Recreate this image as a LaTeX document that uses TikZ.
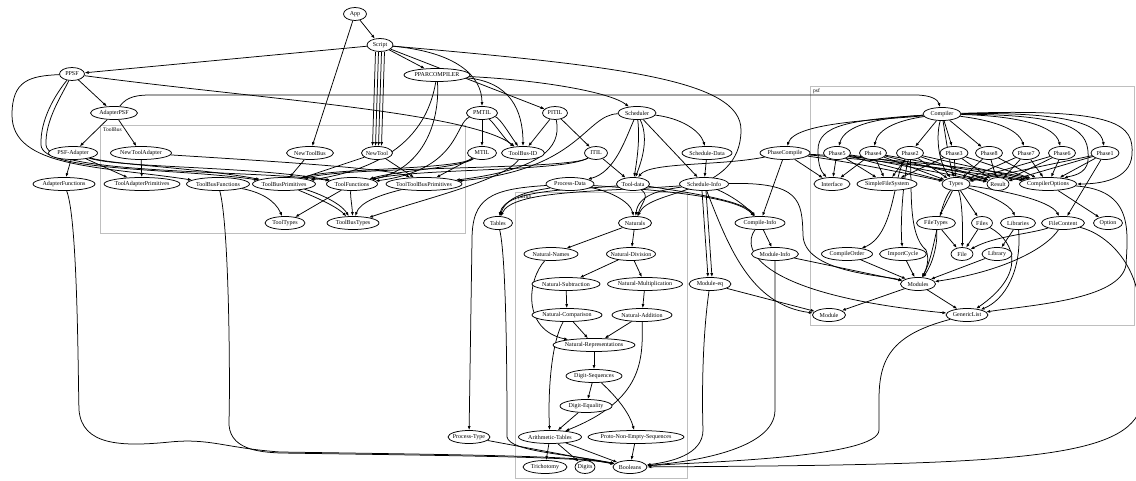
\documentclass[tikz,border=0pt]{standalone}
\usepackage{fontspec}
\setmainfont{Liberation Serif}
\usetikzlibrary{shapes.geometric,arrows.meta}
\pgfdeclarelayer{bg}
\pgfsetlayers{bg,main}
\tikzset{
  nd/.style={ellipse, draw, fill=white, line width=0.75pt, inner xsep=-12pt, inner ysep=0pt, minimum height=13pt, font=\fontsize{6}{7}\selectfont},
  ed/.style={-{Latex[length=4pt,width=3pt]}, line width=0.75pt},
  clu/.style={draw=black!25, line width=0.7pt},
  clab/.style={anchor=west, inner sep=0pt, font=\fontsize{5.5}{6}\selectfont}
}
\begin{document}
\begin{tikzpicture}[x=1pt,y=-1pt]
\useasboundingbox (0,0) rectangle (1136,481);
% nodes
\node[nd,minimum width=23] (App) at (355,14) {App};
\node[nd,minimum width=26] (Script) at (380,45) {Script};
\node[nd,minimum width=25] (PPSF) at (72,74) {PPSF};
\node[nd,minimum width=66] (PPAR) at (437,75) {PPARCOMPILER};
\node[nd,minimum width=47] (AdPSF) at (114,113) {AdapterPSF};
\node[nd,minimum width=31] (PMTIL) at (482,113) {PMTIL};
\node[nd,minimum width=25] (PITIL) at (555,113) {PITIL};
\node[nd,minimum width=38] (Sched) at (637,113) {Scheduler};
\node[nd,minimum width=38] (Comp) at (942,114) {Compiler};
\node[nd,minimum width=49] (PSFAd) at (73,153) {PSF-Adapter};
\node[nd,minimum width=61] (NTAd) at (141,153) {NewToolAdapter};
\node[nd,minimum width=47] (NTB) at (310,153) {NewToolBus};
\node[nd,minimum width=31] (NT) at (377,153) {NewTool};
\node[nd,minimum width=29] (MTIL) at (482,153) {MTIL};
\node[nd,minimum width=43] (TBID) at (523,153) {ToolBus-ID};
\node[nd,minimum width=23] (ITIL) at (596,153) {ITIL};
\node[nd,minimum width=50] (SchData) at (707,153) {Schedule-Data};
\node[nd,minimum width=50] (PhC) at (785,153) {PhaseCompile};
\node[nd,minimum width=27] (Ph5) at (837,153) {Phase5};
\node[nd,minimum width=27] (Ph4) at (873,153) {Phase4};
\node[nd,minimum width=27] (Ph2) at (910,153) {Phase2};
\node[nd,minimum width=28] (Ph3) at (954,153) {Phase3};
\node[nd,minimum width=27] (Ph8) at (989,153) {Phase8};
\node[nd,minimum width=27] (Ph7) at (1026,153) {Phase7};
\node[nd,minimum width=27] (Ph6) at (1062,153) {Phase6};
\node[nd,minimum width=28] (Ph1) at (1105,153) {Phase1};
\node[nd,minimum width=62] (AdFun) at (64,184) {AdapterFunctions};
\node[nd,minimum width=76] (TAP) at (142,184) {ToolAdapterPrimitives};
\node[nd,minimum width=63] (TBF) at (218,184) {ToolBusFunctions};
\node[nd,minimum width=63] (TBP) at (284,184) {ToolBusPrimitives};
\node[nd,minimum width=51] (TF) at (352,184) {ToolFunctions};
\node[nd,minimum width=76] (TTBP) at (424,184) {ToolToolBusPrimitives};
\node[nd,minimum width=48] (PData) at (570,184) {Process-Data};
\node[nd,minimum width=33] (TData) at (633,184) {Tool-data};
\node[nd,minimum width=49] (SchInfo) at (704,184) {Schedule-Info};
\node[nd,minimum width=36] (Intf) at (832,184) {Interface};
\node[nd,minimum width=60] (SFS) at (887,184) {SimpleFileSystem};
\node[nd,minimum width=28] (Types) at (956,184) {Types};
\node[nd,minimum width=22] (Result) at (998,184) {Result};
\node[nd,minimum width=57] (COpt) at (1048,184) {CompilerOptions};
\node[nd,minimum width=40] (TT) at (285,223) {ToolTypes};
\node[nd,minimum width=52] (TBT) at (353,223) {ToolBusTypes};
\node[nd,minimum width=29] (Tables) at (498,223) {Tables};
\node[nd,minimum width=33] (Nat) at (635,223) {Naturals};
\node[nd,minimum width=50] (CInfo) at (760,223) {Compile-Info};
\node[nd,minimum width=39] (FTypes) at (936,223) {FileTypes};
\node[nd,minimum width=21] (Files) at (982,223) {Files};
\node[nd,minimum width=35] (Libs) at (1018,223) {Libraries};
\node[nd,minimum width=43] (FCont) at (1063,223) {FileContent};
\node[nd,minimum width=29] (Option) at (1108,223) {Option};
\node[nd,minimum width=54] (NNames) at (551,254) {Natural-Names};
\node[nd,minimum width=49] (NDiv) at (631,254) {Natural-Division};
\node[nd,minimum width=47] (MInfo) at (775,254) {Module-Info};
\node[nd,minimum width=51] (COrder) at (847,254) {CompileOrder};
\node[nd,minimum width=47] (ICycle) at (903,254) {ImportCycle};
\node[nd,minimum width=22] (File) at (962,254) {File};
\node[nd,minimum width=30] (Library) at (997,254) {Library};
\node[nd,minimum width=68] (NSub) at (566,284) {Natural-Subtraction};
\node[nd,minimum width=75] (NMul) at (645,284) {Natural-Multiplication};
\node[nd,minimum width=42] (Modeq) at (710,284) {Module-eq};
\node[nd,minimum width=35] (Modules) at (918,284) {Modules};
\node[nd,minimum width=70] (NComp) at (567,315) {Natural-Comparison};
\node[nd,minimum width=60] (NAdd) at (642,315) {Natural-Addition};
\node[nd,minimum width=33] (Module) at (829,315) {Module};
\node[nd,minimum width=42] (GList) at (967,315) {GenericList};
\node[nd,minimum width=82] (NRep) at (594,345) {Natural-Representations};
\node[nd,minimum width=56] (DSeq) at (594,376) {Digit-Sequences};
\node[nd,minimum width=52] (DEq) at (586,406) {Digit-Equality};
\node[nd,minimum width=63] (ATab) at (550,437) {Arithmetic-Tables};
\node[nd,minimum width=96] (PNES) at (636,437) {Proto-Non-Empty-Sequences};
\node[nd,minimum width=42] (PType) at (469,437) {Process-Type};
\node[nd,minimum width=44] (Tri) at (545,467) {Trichotomy};
\node[nd,minimum width=20] (Digits) at (585,467) {Digits};
\node[nd,minimum width=34] (Bool) at (630,467) {Booleans};
\begin{pgfonlayer}{bg}
% clusters
\draw[clu] (100,125) rectangle (465,233);
\node[clab] (lToolBus) at (103,130) {ToolBus};
\draw[clu] (515,192) rectangle (687,478);
\node[clab] (lpdflib) at (518,197) {pdflib};
\draw[clu] (810,86) rectangle (1134,325);
\node[clab] (lpsf) at (813,91) {psf};
% ---- edges: top
\draw[ed] (App) -- (Script);
\draw[ed] (App) -- (NTB);
\draw[ed] (Script) -- (PPSF);
\draw[ed] (Script) -- (PPAR);
\foreach \s in {-4.5,-1.5,1.5,4.5}{\draw[ed] ([xshift=\s]Script.south) -- ([xshift=\s]NT.north);}
\draw[ed] (Script) .. controls (455,52) and (482,75) .. (PMTIL);
\draw[ed] (Script) -- (PITIL);
\draw[ed] (Script) .. controls (620,66) and (741,80) .. (741,130) .. controls (741,196) and (650,188) .. (Nat);
% PPSF
\draw[ed] (PPSF) -- (AdPSF);
\draw[ed] (PPSF) .. controls (250,98) and (470,112) .. (TBID);
\draw[ed] (PPSF) .. controls (30,76) and (12,80) .. (12,115) .. controls (12,168) and (100,166) .. (TBF);
\draw[ed] (PPSF) .. controls (55,95) and (40,120) .. (41,145) .. controls (42,172) and (180,168) .. (TBP);
\draw[ed] (PPSF) .. controls (62,95) and (45,120) .. (46,145) .. controls (47,175) and (260,170) .. (TF);
% AdapterPSF
\draw[ed] (AdPSF) -- (PSFAd);
\draw[ed] (AdPSF) -- (NTAd);
\draw[ed] (AdPSF) .. controls (125,100) and (130,95) .. (150,95) -- (915,95) .. controls (932,95) and (938,100) .. (Comp);
% PSF-Adapter, NewToolAdapter, NewToolBus, NewTool
\draw[ed] (PSFAd) -- (AdFun);
\draw[ed] (PSFAd) -- (TAP);
\draw[ed] (PSFAd) .. controls (120,168) and (250,166) .. (TF);
\draw[ed] (PSFAd) .. controls (115,165) and (200,168) .. (TBP);
\draw[ed] (NTAd) -- (TAP);
\draw[ed] (NTAd) .. controls (250,160) and (390,168) .. (TTBP);
\draw[ed] (NTB) -- (TBP);
\draw[ed] (NT) -- (TBP);
\draw[ed] (NT) -- (TTBP);
% PPARCOMPILER
\draw[ed] (PPAR) .. controls (540,80) and (610,92) .. (Sched);
\draw[ed] (PPAR) .. controls (510,82) and (523,110) .. (TBID);
\draw[ed] (PPAR) .. controls (430,115) and (410,165) .. (TBP);
\draw[ed] (PPAR) .. controls (440,120) and (425,168) .. (TF);
% PMTIL, PITIL, MTIL, ITIL
\draw[ed] (PMTIL) -- (MTIL);
\draw[ed] (PMTIL) .. controls (500,118) and (510,135) .. (TBID);
\draw[ed] (PMTIL) .. controls (495,124) and (505,140) .. (TBID);
\draw[ed] (PMTIL) .. controls (455,122) and (460,170) .. (TF);
\draw[ed] (PITIL) -- (TBID);
\draw[ed] (PITIL) -- (ITIL);
\draw[ed] (PITIL) .. controls (560,140) and (555,168) .. (TTBP);
\draw[ed] (MTIL) -- (TTBP);
\draw[ed] (MTIL) .. controls (460,168) and (400,170) .. (TF);
\draw[ed] (MTIL) .. controls (455,170) and (330,168) .. (TBP);
\draw[ed] (ITIL) -- (TData);
\draw[ed] (ITIL) .. controls (565,172) and (420,168) .. (TF);
\draw[ed] (ITIL) .. controls (570,170) and (350,166) .. (TBP);
\draw[ed] (TBID) .. controls (505,180) and (420,200) .. (TBT);
% ToolBus internal
\draw[ed] (TBF) .. controls (260,192) and (275,200) .. (TT);
\draw[ed] (TBP) .. controls (310,195) and (335,205) .. (TBT);
\draw[ed] (TBP) .. controls (315,192) and (340,202) .. (TBT);
\draw[ed] (TF) -- (TT);
\draw[ed] (TF) .. controls (350,195) and (352,205) .. (TBT);
\draw[ed] (TTBP) .. controls (380,195) and (360,202) .. (TBT);
% Scheduler
\draw[ed] (Sched) .. controls (680,118) and (700,130) .. (SchData);
\draw[ed] (Sched) -- (SchInfo);
\draw[ed] (Sched) .. controls (640,140) and (637,160) .. (TData);
\draw[ed] (Sched) .. controls (650,140) and (640,165) .. (TData);
\draw[ed] (Sched) .. controls (625,140) and (615,172) .. (PData);
\draw[ed] (Sched) .. controls (585,115) and (580,170) .. (TTBP);
\draw[ed] (SchData) -- (SchInfo);
% Schedule-Info
\draw[ed] ([xshift=-2]SchInfo.south) -- ([xshift=-2]Modeq.north);
\draw[ed] ([xshift=2]SchInfo.south) -- ([xshift=2]Modeq.north);
\draw[ed] (SchInfo) .. controls (730,195) and (745,205) .. (CInfo);
\draw[ed] (SchInfo) .. controls (660,190) and (638,195) .. (Nat);
\draw[ed] (SchInfo) .. controls (600,192) and (512,190) .. (Tables);
\draw[ed] (SchInfo) .. controls (800,182) and (802,200) .. (803,235) .. controls (804,272) and (880,275) .. (Modules);
\draw[ed] (SchInfo) .. controls (728,245) and (750,305) .. (Module);
% Process-Data, Tool-data
\draw[ed] (PData) .. controls (605,190) and (630,200) .. (Nat);
\draw[ed] (PData) .. controls (540,190) and (507,193) .. (Tables);
\draw[ed] (PData) .. controls (490,189) and (472,198) .. (472,240) -- (PType);
\draw[ed] (PData) .. controls (690,192) and (740,200) .. (CInfo);
\draw[ed] (TData) .. controls (650,196) and (642,202) .. (Nat);
\draw[ed] (TData) .. controls (580,190) and (505,188) .. (Tables);
\draw[ed] (TData) .. controls (700,194) and (745,202) .. (CInfo);
% PhaseCompile
\draw[ed] (PhC) -- (CInfo);
\draw[ed] (PhC) -- (Intf);
\draw[ed] (PhC) .. controls (850,162) and (900,172) .. (Types);
\draw[ed] (PhC) .. controls (870,160) and (960,168) .. (Result);
\draw[ed] (PhC) .. controls (880,158) and (1000,170) .. (COpt);
\draw[ed] (PhC) .. controls (720,166) and (650,162) .. (TData);
% Compiler
\draw[ed] (Comp) .. controls (880,120) and (795,122) .. (PhC);
\draw[ed] (Comp) .. controls (850,120) and (818,125) .. (818,150) .. controls (818,168) and (822,172) .. (Intf);
\draw[ed] (Comp) .. controls (880,118) and (845,124) .. (Ph5);
\draw[ed] (Comp) .. controls (900,120) and (878,128) .. (Ph4);
\draw[ed] (Comp) -- (Ph2);
\draw[ed] (Comp) -- (Ph3);
\draw[ed] (Comp) -- (Ph8);
\draw[ed] (Comp) .. controls (990,120) and (1018,128) .. (Ph7);
\draw[ed] (Comp) .. controls (1020,116) and (1055,126) .. (Ph6);
\draw[ed] (Comp) .. controls (1060,112) and (1100,122) .. (Ph1);
\draw[ed] (Comp) .. controls (935,140) and (940,165) .. (Types);
\draw[ed] (Comp) .. controls (946,140) and (950,165) .. (Types);
\draw[ed] (Comp) .. controls (1075,115) and (1090,130) .. (1088,160) .. controls (1087,175) and (1070,176) .. (COpt);
\draw[ed] (Comp) .. controls (1120,108) and (1134,125) .. (1132,155) .. controls (1130,180) and (1100,184) .. (COpt);
% Phases
\foreach \p in {Ph5,Ph4,Ph2,Ph3,Ph8,Ph7,Ph6,Ph1}{
  \draw[ed] (\p) -- (Types);
  \draw[ed] (\p) -- (Result);
  \draw[ed] (\p) -- (COpt);
}
\draw[ed] (Ph5) -- (Intf);
\draw[ed] (Ph5) -- (SFS);
\draw[ed] (Ph4) -- (Intf);
\draw[ed] (Ph4) -- (SFS);
\draw[ed] (Ph2) -- (SFS);
\draw[ed] (Ph3) -- (SFS);
\draw[ed] (Ph1) -- (FCont);
\draw[ed] (Ph2) .. controls (893,175) and (895,235) .. (COrder);
\draw[ed] (Ph2) .. controls (903,180) and (900,225) .. (ICycle);
\draw[ed] (Ph2) .. controls (912,190) and (908,235) .. (926,250) .. controls (930,260) and (926,270) .. (Modules);
% Types and psf internals
\draw[ed] (Types) -- (FTypes);
\draw[ed] (Types) -- (Files);
\draw[ed] (Types) .. controls (990,195) and (1010,205) .. (Libs);
\draw[ed] (Types) .. controls (1000,190) and (1050,200) .. (FCont);
\draw[ed] (Types) .. controls (962,200) and (963,225) .. (File);
\draw[ed] (Types) .. controls (938,205) and (935,255) .. (Modules);
\draw[ed] (FTypes) -- (File);
\draw[ed] (FTypes) .. controls (938,245) and (932,265) .. (Modules);
\draw[ed] (Files) -- (File);
\draw[ed] (Files) .. controls (1017,243) and (1025,275) .. (GList);
\draw[ed] (Libs) -- (Library);
\draw[ed] (Libs) .. controls (1022,270) and (1005,300) .. (GList);
\draw[ed] (FCont) .. controls (1030,234) and (995,236) .. (File);
\draw[ed] (FCont) .. controls (1045,250) and (1000,272) .. (Modules);
\draw[ed] (FCont) .. controls (1110,235) and (1145,270) .. (1140,330) -- (1140,410) .. controls (1120,460) and (1000,465) .. (Bool);
\draw[ed] (COpt) -- (Option);
\draw[ed] (COpt) .. controls (1133,190) and (1128,230) .. (1126,265) .. controls (1120,300) and (1030,305) .. (GList);
\draw[ed] (Library) -- (Modules);
\draw[ed] (COrder) -- (Modules);
\draw[ed] (ICycle) -- (Modules);
\draw[ed] (Modules) -- (Module);
\draw[ed] (Modules) -- (GList);
\draw[ed] (CInfo) -- (MInfo);
\draw[ed] (CInfo) .. controls (740,250) and (760,295) .. (GList);
\draw[ed] (MInfo) -- (Modules);
\draw[ed] (MInfo) .. controls (775,300) and (775,400) .. (775,410) .. controls (775,450) and (690,462) .. (Bool);
\draw[ed] (Modeq) -- (Module);
\draw[ed] (Modeq) .. controls (702,340) and (702,400) .. (703,430) .. controls (703,455) and (670,462) .. (Bool);
\draw[ed] (GList) .. controls (890,335) and (879,360) .. (879,400) -- (879,430) .. controls (879,458) and (700,462) .. (Bool);
% pdflib
\draw[ed] (Nat) -- (NNames);
\draw[ed] (Nat) -- (NDiv);
\draw[ed] (NNames) .. controls (527,280) and (522,330) .. (NRep);
\draw[ed] (NDiv) -- (NSub);
\draw[ed] (NDiv) -- (NMul);
\draw[ed] (NSub) -- (NComp);
\draw[ed] (NMul) -- (NAdd);
\draw[ed] (NComp) -- (NRep);
\draw[ed] (NAdd) -- (NRep);
\draw[ed] (NComp) .. controls (550,345) and (548,400) .. (ATab);
\draw[ed] (NAdd) .. controls (643,360) and (643,400) .. (ATab);
\draw[ed] (NRep) -- (DSeq);
\draw[ed] (DSeq) -- (DEq);
\draw[ed] (DSeq) .. controls (620,400) and (630,415) .. (PNES);
\draw[ed] (DEq) -- (ATab);
\draw[ed] (ATab) -- (Tri);
\draw[ed] (ATab) -- (Digits);
\draw[ed] (ATab) -- (Bool);
\draw[ed] (PNES) -- (Bool);
\draw[ed] (PType) -- (Bool);
\draw[ed] (Tables) .. controls (507,260) and (507,400) .. (507,437) .. controls (510,452) and (570,454) .. (Bool);
\draw[ed] (AdFun) .. controls (78,220) and (78,380) .. (79,410) .. controls (82,445) and (120,447) .. (170,442) .. controls (210,438) and (225,448) .. (280,452) .. controls (480,455) and (580,456) .. (Bool);
\draw[ed] (TBF) .. controls (230,230) and (230,400) .. (229,420) .. controls (227,450) and (260,452) .. (280,453) .. controls (480,456) and (580,457) .. (Bool);
\end{pgfonlayer}
\end{tikzpicture}
\end{document}
